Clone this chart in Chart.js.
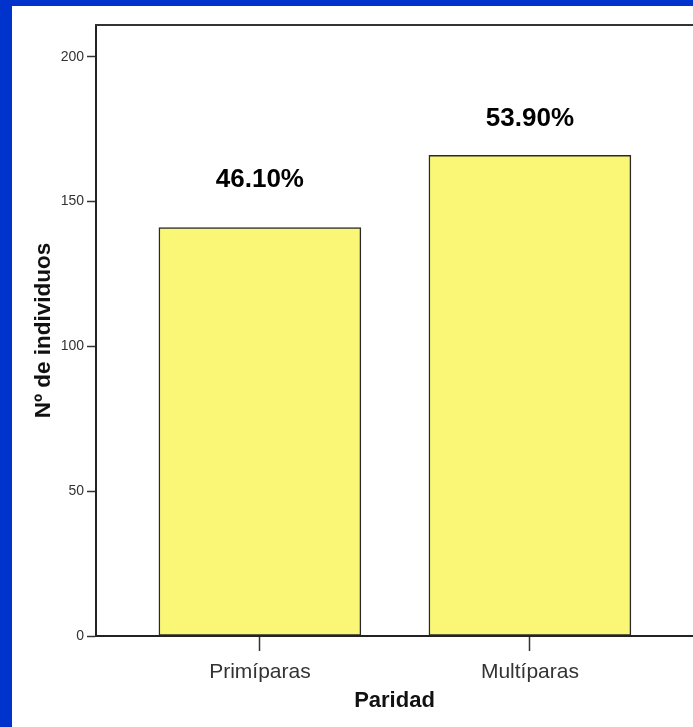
<!DOCTYPE html>
<html>
<head>
<meta charset="utf-8">
<script src="https://cdn.jsdelivr.net/npm/chart.js@4.4.1/dist/chart.umd.min.js"></script>
<style>
    html, body { margin: 0; padding: 0; }
    body { width: 693px; height: 727px; background: #0033cc; position: relative; overflow: hidden; }
    #paper { position: absolute; left: 12px; top: 6px; right: 0; bottom: 0; background: #fff; }
    #wrap { position: absolute; left: 0; top: 0; width: 693px; height: 727px; }
</style>
</head>
<body>
<div id="paper"></div>
<div id="wrap"><canvas id="paridadChart" width="693" height="727"></canvas></div>
<script>
// Data
const categories = ['Primíparas', 'Multíparas'];
const positions = [0, 1];
const counts = [141, 166];
const percentLabels = ['46.10%', '53.90%'];
const yTicks = [0, 50, 100, 150, 200];

const FONT = "'Liberation Sans', Arial, sans-serif";

// Frame line across the top of the plot
const topLine = {
    id: 'topLine',
    afterDraw(chart) {
        const { ctx, chartArea } = chart;
        ctx.save();
        ctx.strokeStyle = '#333';
        ctx.lineWidth = 2;
        ctx.beginPath();
        ctx.moveTo(chartArea.left - 1, chartArea.top);
        ctx.lineTo(chartArea.right, chartArea.top);
        ctx.stroke();
        ctx.restore();
    }
};

// Percentage text above the bars
const percentText = {
    id: 'percentText',
    afterDatasetsDraw(chart) {
        const { ctx } = chart;
        const lift = [48, 36];
        const meta = chart.getDatasetMeta(0);
        ctx.save();
        ctx.font = 'bold 26px ' + FONT;
        ctx.fillStyle = '#000';
        ctx.textAlign = 'center';
        ctx.textBaseline = 'middle';
        meta.data.forEach((bar, i) => {
            ctx.fillText(percentLabels[i], bar.x, bar.y - lift[i]);
        });
        ctx.restore();
    }
};

const ctx = document.getElementById('paridadChart').getContext('2d');

new Chart(ctx, {
    type: 'bar',
    data: {
        datasets: [{
            data: positions.map((p, i) => ({ x: p, y: counts[i] })),
            backgroundColor: '#f9f775',
            borderColor: '#2a2a2a',
            borderWidth: 1.5,
            borderSkipped: false,
            barThickness: 202
        }]
    },
    options: {
        responsive: false,
        animation: false,
        layout: { padding: { top: 25, right: 0, left: 0, bottom: 0 } },
        plugins: {
            legend: { display: false },
            tooltip: { enabled: false }
        },
        scales: {
            x: {
                type: 'linear',
                offset: false,
                min: -0.607,
                max: 1.604,
                afterBuildTicks: (scale) => { scale.ticks = positions.map(v => ({ value: v })); },
                afterFit: (scale) => { scale.height = 91; },
                grid: {
                    offset: false,
                    drawOnChartArea: false,
                    drawTicks: true,
                    tickLength: 15,
                    tickColor: '#333',
                    tickWidth: 1.5
                },
                border: { color: '#222', width: 2 },
                ticks: {
                    padding: 9,
                    color: '#333',
                    font: { family: FONT, size: 21 },
                    callback: (v) => categories[v] ?? ''
                },
                title: {
                    display: true,
                    text: 'Paridad',
                    color: '#111',
                    font: { family: FONT, size: 22, weight: 'bold' },
                    padding: { top: 0, bottom: 13 }
                }
            },
            y: {
                min: 0,
                max: 211,
                afterBuildTicks: (scale) => { scale.ticks = yTicks.map(v => ({ value: v })); },
                afterFit: (scale) => { scale.width = 96; },
                grid: {
                    drawOnChartArea: false,
                    drawTicks: true,
                    tickLength: 9,
                    tickColor: '#333',
                    tickWidth: 1.5
                },
                border: { color: '#222', width: 2 },
                ticks: {
                    padding: 3,
                    color: '#333',
                    font: { family: FONT, size: 14 }
                },
                title: {
                    display: true,
                    text: 'Nº de individuos',
                    color: '#111',
                    font: { family: FONT, size: 22.5, weight: 'bold' },
                    padding: { top: 30, bottom: 0 }
                }
            }
        }
    },
    plugins: [topLine, percentText]
});
</script>
</body>
</html>
